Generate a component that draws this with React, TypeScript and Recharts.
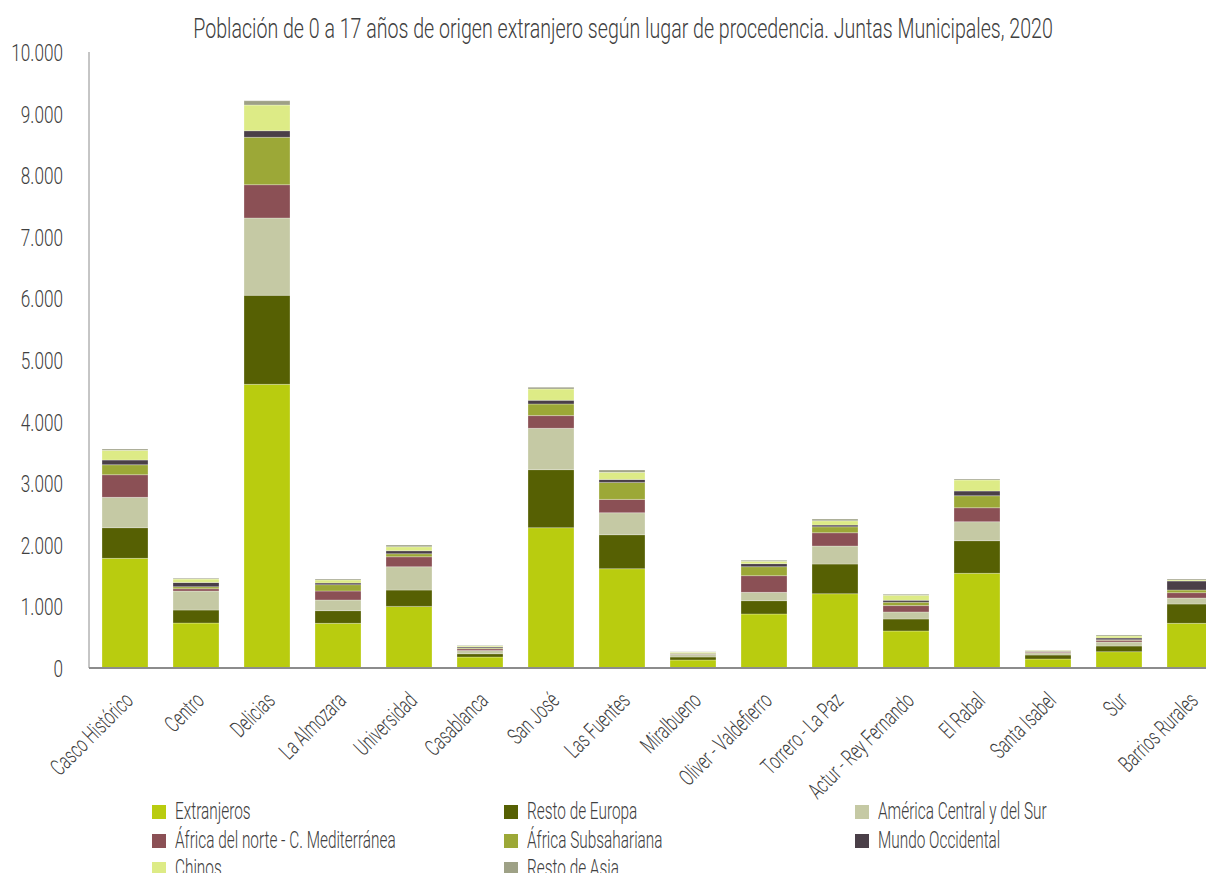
import { BarChart, Bar, XAxis, YAxis } from 'recharts';

const juntas = [
  'Casco Histórico', 'Centro', 'Delicias', 'La Almozara', 'Universidad', 'Casablanca', 'San José', 'Las Fuentes',
  'Miralbueno', 'Oliver - Valdefierro', 'Torrero - La Paz', 'Actur - Rey Fernando', 'El Rabal', 'Santa Isabel', 'Sur', 'Barrios Rurales',
];

const extranjeros = [1780, 730, 4605, 725, 1000, 178, 2278, 1612, 130, 877, 1206, 601, 1537, 146, 265, 725];
const restoEuropa = [498, 211, 1445, 206, 265, 54, 942, 552, 49, 216, 482, 195, 530, 65, 92, 314];
const americaCentralSur = [492, 308, 1255, 173, 379, 54, 671, 357, 43, 135, 292, 114, 308, 38, 65, 97];
const africaNorte = [368, 38, 541, 146, 162, 27, 206, 216, 11, 271, 216, 103, 227, 11, 27, 87];
const africaSubsahariana = [162, 32, 769, 103, 49, 11, 189, 276, 11, 146, 97, 54, 195, 11, 11, 43];
const mundoOccidental = [76, 70, 107, 27, 49, 16, 60, 49, 5, 49, 27, 32, 76, 5, 27, 146];
const chinos = [157, 54, 417, 49, 65, 16, 184, 114, 11, 38, 70, 81, 179, 11, 32, 16];
const restoAsia = [22, 16, 70, 16, 27, 11, 27, 38, 5, 16, 27, 16, 16, 5, 16, 16];

const yTicks = [0, 1000, 2000, 3000, 4000, 5000, 6000, 7000, 8000, 9000, 10000];

const series = [
  { key: 'extranjeros', name: 'Extranjeros', color: '#B9CC0F', values: extranjeros },
  { key: 'restoEuropa', name: 'Resto de Europa', color: '#566003', values: restoEuropa },
  { key: 'america', name: 'América Central y del Sur', color: '#C5C9A4', values: americaCentralSur },
  { key: 'africaNorte', name: 'África del norte - C. Mediterránea', color: '#8B5055', values: africaNorte },
  { key: 'subsahariana', name: 'África Subsahariana', color: '#9CA837', values: africaSubsahariana },
  { key: 'mundo', name: 'Mundo Occidental', color: '#4A3F48', values: mundoOccidental },
  { key: 'chinos', name: 'Chinos', color: '#DDEB86', values: chinos },
  { key: 'restoAsia', name: 'Resto de Asia', color: '#9EA186', values: restoAsia },
];

const data = juntas.map((junta, i) => {
  const row: Record<string, string | number> = { junta };
  series.forEach((s) => { row[s.key] = s.values[i]; });
  return row;
});

// the original uses a tall condensed face; no such font offline, so Roboto Light gets squeezed
const FONT = "Roboto, 'Liberation Sans', sans-serif";
const INK = '#404040';

const fmt = (v: number) => v.toLocaleString('de-DE');

function JuntaTick({ x, y, payload }: any) {
  return (
    <text
      transform={`translate(${x + 10}, ${y + 26}) rotate(-45) scale(0.66, 1)`}
      textAnchor="end"
      fill={INK}
      fontSize={23}
      fontWeight={300}
      fontFamily={FONT}
    >
      {payload.value}
    </text>
  );
}

function ValueTick({ x, y, payload }: any) {
  return (
    <text
      transform={`translate(${x}, ${y + 9}) scale(0.73, 1)`}
      textAnchor="end"
      fill={INK}
      fontSize={23.5}
      fontWeight={300}
      fontFamily={FONT}
    >
      {fmt(payload.value)}
    </text>
  );
}

export default function App() {
  return (
    <div style={{ position: 'relative', width: 1214, height: 881, overflow: 'hidden', margin: -8, background: '#fff' }}>
      <div
        style={{
          position: 'absolute', top: 15, left: 0, width: 1246, textAlign: 'center',
          fontFamily: FONT, fontWeight: 300, fontSize: 28, lineHeight: '28px', color: INK, whiteSpace: 'nowrap',
          transform: 'scaleX(0.7)', transformOrigin: '623px 0',
        }}
      >
        Población de 0 a 17 años de origen extranjero según lugar de procedencia. Juntas Municipales, 2020
      </div>
      <BarChart width={1240} height={881} data={data} margin={{ top: 52, right: 15, left: 0, bottom: 0 }}>
        <XAxis
          dataKey="junta"
          interval={0}
          tick={<JuntaTick />}
          tickLine={false}
          axisLine={{ stroke: '#8c8c8c', strokeWidth: 2 }}
          height={213}
        />
        <YAxis
          width={89}
          domain={[0, 10000]}
          ticks={yTicks}
          tickLine={false}
          tickSize={0}
          tickMargin={26}
          axisLine={{ stroke: '#8c8c8c', strokeWidth: 1 }}
          tick={<ValueTick />}
        />
        {series.map((s) => (
          <Bar
            key={s.key}
            dataKey={s.key}
            name={s.name}
            stackId="a"
            fill={s.color}
            barSize={46}
            stroke="rgba(255,255,255,0.45)"
            strokeWidth={0.6}
            isAnimationActive={false}
          />
        ))}
      </BarChart>
      {series.map((s, i) => {
        const col = i % 3;
        const row = Math.floor(i / 3);
        const top = 805 + row * 28.5;
        const left = 152 + col * 351.5;
        return (
          <div key={s.key}>
            <span style={{ position: 'absolute', left, top, width: 14, height: 14, background: s.color }} />
            <span
              style={{
                position: 'absolute', left: left + 23, top: top - 6,
                fontFamily: FONT, fontWeight: 300, fontSize: 24, lineHeight: '24px', color: INK, whiteSpace: 'nowrap',
                transform: 'scaleX(0.64)', transformOrigin: '0 50%',
              }}
            >
              {s.name}
            </span>
          </div>
        );
      })}
    </div>
  );
}
